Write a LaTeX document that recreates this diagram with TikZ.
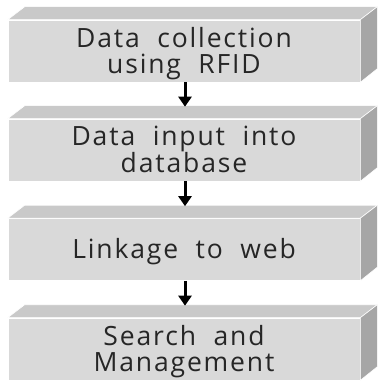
\documentclass[tikz,border=0pt]{standalone}
\usepackage{fontspec}
\setmainfont{Open Sans}
\usetikzlibrary{positioning, arrows.meta, calc}
\definecolor{frontgray}{HTML}{D9D9D9}
\definecolor{topgray}{HTML}{C9C9C9}
\definecolor{sidegray}{HTML}{A6A6A6}
\definecolor{txtgray}{HTML}{262626}

\begin{document}
\begin{tikzpicture}[x=1pt, y=-1pt,
  stage/.style={fill=frontgray, draw=white, line width=0.6pt, minimum width=352pt,
    minimum height=62pt, inner sep=0pt, align=center, text=txtgray, text depth=1.5pt,
    font=\fontsize{26.5}{26}\selectfont\addfontfeatures{LetterSpace=7}},
  flow/.style={-{Triangle[width=13pt, length=10pt]}, line width=3pt}]
\useasboundingbox (0,0) rectangle (378,382);

% stages
\node[stage] (collect) at (184,51) {Data~ collection\\using~ RFID};
\node[stage] (input) at (184,150) {Data~ input~ into\\database};
\node[stage] (web) at (184,249.5) {Linkage~ to~ web};
\node[stage] (search) at (184,349) {Search~ and\\Management};

% top and side faces
\foreach \n in {collect, input, web, search} {
  \filldraw[fill=topgray, draw=white, line width=0.6pt] (\n.north west) -- ++(17,-13) -- ($(\n.north east)+(17,-13)$) -- (\n.north east) -- cycle;
  \filldraw[fill=sidegray, draw=white, line width=0.6pt] (\n.north east) -- ++(17,-13) -- ++(0,62) -- (\n.south east) -- cycle;
}

% arrows
\coordinate (inputtop) at ($(input.north)+(1,-12)$);
\coordinate (webtop) at ($(web.north)+(1,-12)$);
\coordinate (searchtop) at ($(search.north)+(1,-12)$);
\draw[flow] (collect.south -| inputtop) -- (inputtop);
\draw[flow] (input.south -| webtop) -- (webtop);
\draw[flow] (web.south -| searchtop) -- (searchtop);
\end{tikzpicture}
\end{document}
